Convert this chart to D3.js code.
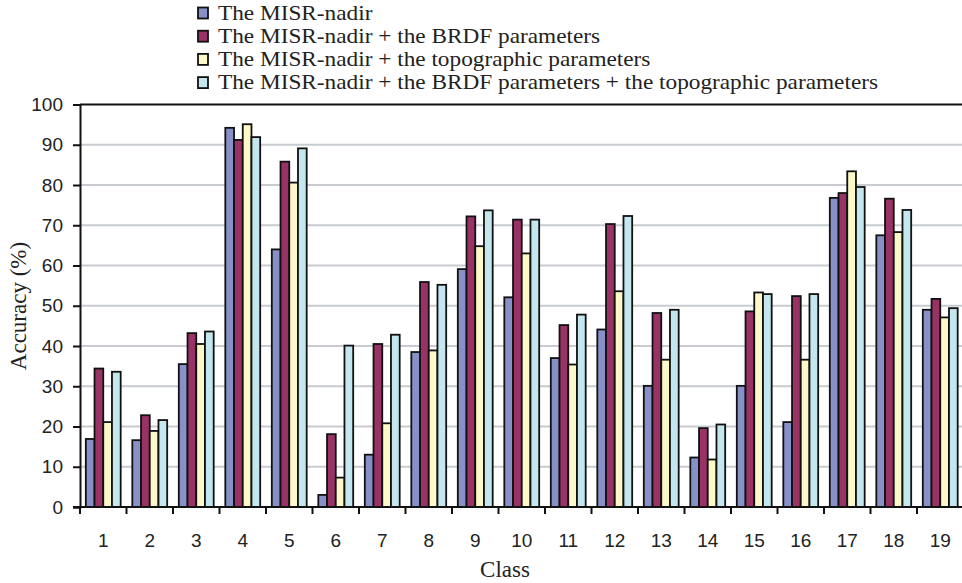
<!DOCTYPE html>
<html>
<head>
<meta charset="utf-8">
<script src="https://cdn.jsdelivr.net/npm/d3@7/dist/d3.min.js"></script>
<style>
html,body{margin:0;padding:0;background:#fff;}
svg{display:block;}
</style>
</head>
<body>
<svg id="chart" width="962" height="583"></svg>
<script>
const classes = ["1","2","3","4","5","6","7","8","9","10","11","12","13","14","15","16","17","18","19"];
const seriesNames = [
  "The MISR-nadir",
  "The MISR-nadir + the BRDF parameters",
  "The MISR-nadir + the topographic parameters",
  "The MISR-nadir + the BRDF parameters + the topographic parameters"
];
const misrNadir   = [16.9,16.6,35.5,94.2,64.0, 3.0,13.0,38.5,59.1,52.1,37.0,44.1,30.1,12.3,30.1,21.1,76.8,67.5,49.0];
const misrBrdf    = [34.4,22.8,43.2,91.2,85.8,18.1,40.5,55.9,72.2,71.4,45.2,70.3,48.2,19.6,48.6,52.4,78.0,76.6,51.7];
const misrTopo    = [21.1,18.9,40.5,95.1,80.6, 7.3,20.8,38.9,64.8,63.0,35.4,53.6,36.6,11.8,53.3,36.6,83.4,68.3,47.1];
const misrBrdfTopo= [33.6,21.6,43.6,91.9,89.1,40.1,42.8,55.2,73.7,71.4,47.8,72.3,49.0,20.5,52.9,52.9,79.5,73.8,49.4];
const yTicks = [0,10,20,30,40,50,60,70,80,90,100];

(function () {
const seriesValues = [misrNadir, misrBrdf, misrTopo, misrBrdfTopo];
const colors = ["#8890c8","#993366","#fcf8c8","#c4e6ee"];
const serif = "'Liberation Serif', 'Times New Roman', Times, serif";
const sans = "'Liberation Sans', Arial, Helvetica, sans-serif";

const svg = d3.select("#chart");
const pLeft = 80, pRight = 963.5, pTop = 104.5, pBottom = 507;

const x = d3.scaleBand().domain(classes).range([pLeft, pRight]).paddingInner(0.25).paddingOuter(0.125);
const xs = d3.scaleBand().domain(d3.range(4)).range([0, x.bandwidth()]);
const y = d3.scaleLinear().domain([0,100]).range([pBottom, pTop]);

// gridlines
svg.append("g").selectAll("line").data(yTicks.filter(d => d > 0 && d < 100)).join("line")
  .attr("x1", pLeft).attr("x2", 962)
  .attr("y1", d => y(d)).attr("y2", d => y(d))
  .attr("stroke", "#c8ccd0").attr("stroke-width", 2);
// top border
svg.append("line").attr("x1", pLeft).attr("x2", 962).attr("y1", y(100)).attr("y2", y(100))
  .attr("stroke", "#111").attr("stroke-width", 2);

// bars
const data = [];
classes.forEach((c, i) => seriesValues.forEach((s, j) => data.push({c, j, v: s[i]})));
svg.append("g").selectAll("rect").data(data).join("rect")
  .attr("x", d => x(d.c) + xs(d.j))
  .attr("y", d => y(d.v))
  .attr("width", xs.bandwidth())
  .attr("height", d => y(0) - y(d.v))
  .attr("fill", d => colors[d.j])
  .attr("stroke", "#111").attr("stroke-width", 1.8);

// y axis
const yAxis = svg.append("g").attr("transform", `translate(${pLeft},0)`)
  .call(d3.axisLeft(y).tickValues(yTicks).tickSize(7).tickPadding(10));
yAxis.attr("font-family", sans);
yAxis.select(".domain").attr("stroke", "#111").attr("stroke-width", 2);
yAxis.selectAll(".tick line").attr("stroke", "#111").attr("stroke-width", 2);
yAxis.selectAll("text").style("font-family", sans)
  .attr("font-size", 19).attr("fill", "#222");

// x axis baseline and boundary ticks
svg.append("line").attr("x1", pLeft - 7).attr("x2", 962).attr("y1", pBottom).attr("y2", pBottom)
  .attr("stroke", "#111").attr("stroke-width", 2);
const step = x.step();
const bounds = d3.range(classes.length + 1).map(i => pLeft + i * step);
svg.append("g").selectAll("line").data(bounds).join("line")
  .attr("x1", d => d).attr("x2", d => d)
  .attr("y1", pBottom).attr("y2", pBottom + 7)
  .attr("stroke", "#111").attr("stroke-width", 2);
svg.append("g").selectAll("text").data(classes).join("text")
  .attr("x", d => x(d) + x.bandwidth() / 2)
  .attr("y", 547)
  .attr("text-anchor", "middle")
  .style("font-family", sans)
  .attr("font-size", 19).attr("fill", "#222")
  .text(d => d);

// axis titles
svg.append("text").attr("x", 505).attr("y", 577).attr("text-anchor", "middle")
  .style("font-family", serif).attr("font-size", 23)
  .attr("fill", "#222").text("Class");
svg.append("text").attr("transform", "translate(26,306) rotate(-90)").attr("text-anchor", "middle")
  .style("font-family", serif).attr("font-size", 23)
  .attr("fill", "#222").text("Accuracy (%)");

// legend
const lg = svg.append("g");
const legendTexts = [];
seriesNames.forEach((name, j) => {
  const cy = 13 + j * 23.2;
  lg.append("rect").attr("x", 198).attr("y", cy - 5.5).attr("width", 10).attr("height", 11)
    .attr("fill", colors[j]).attr("stroke", "#111").attr("stroke-width", 1.8);
  const t = lg.append("g").attr("transform", `translate(218,${cy + 6.5})`)
    .append("text")
    .style("font-family", serif).attr("font-size", 20.4)
    .attr("fill", "#222").text(name);
  legendTexts.push(t);
});
const longest = d3.max(legendTexts, t => t.node().getComputedTextLength());
const sx = longest > 0 ? 660 / longest : 1;
legendTexts.forEach(t => t.attr("transform", `scale(${sx},1)`));
})();
</script>
</body>
</html>
